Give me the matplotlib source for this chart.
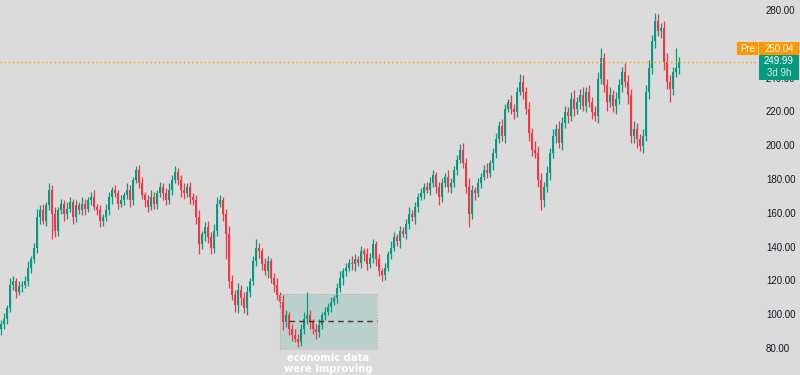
import numpy as np
import matplotlib.pyplot as plt
from matplotlib.patches import Rectangle
from matplotlib.transforms import blended_transform_factory

# daily closes (one candle every ~3 px)
closes = [
    95, 98, 104, 118, 120, 114, 117, 118, 120, 128, 133, 140, 158, 162, 156, 165, 174, 160, 150, 162,
    166, 160, 163, 167, 158, 165, 162, 166, 163, 168, 170, 164, 162, 156, 158, 162, 170, 174, 172, 166,
    168, 171, 174, 168, 180, 186, 178, 171, 168, 164, 170, 166, 172, 176, 172, 168, 174, 180, 185, 180,
    174, 172, 176, 170, 168, 158, 142, 148, 152, 146, 140, 150, 166, 168, 160, 148, 120, 112, 106, 115,
    110, 104, 114, 120, 132, 140, 138, 130, 126, 132, 122, 118, 112, 108, 96, 100, 92, 88, 86, 84,
    92, 98, 100, 96, 92, 90, 94, 100, 102, 105, 108, 110, 116, 122, 126, 128, 131, 130, 133, 131,
    138, 136, 130, 134, 142, 133, 126, 124, 128, 136, 140, 146, 144, 150, 148, 154, 160, 158, 164, 170,
    172, 176, 174, 178, 183, 176, 170, 178, 182, 176, 178, 186, 192, 198, 190, 176, 160, 174, 172, 178,
    182, 186, 184, 190, 196, 204, 212, 206, 222, 226, 222, 220, 232, 238, 232, 222, 208, 198, 196, 180,
    168, 176, 184, 196, 206, 210, 202, 214, 220, 218, 228, 222, 226, 230, 224, 232, 226, 220, 218, 240,
    252, 236, 226, 230, 224, 228, 236, 244, 238, 230, 206, 210, 204, 200, 206, 232, 246, 262, 274, 268,
    270, 250, 238, 234, 244, 246, 249.99,
]
first_open = 92

# wick lengths above / below the body
upper_wick = [
    2, 3, 2, 4, 3, 2, 3, 2, 3, 4, 2, 3, 5, 3, 4, 2, 4, 3, 4, 2,
    3, 2, 4, 3, 2, 3, 2, 4, 3, 2, 3, 4, 2, 3, 2, 4, 3, 2, 3, 2,
    3, 2, 4, 3, 2, 2, 3, 4, 2, 3, 4, 3, 2, 3, 2, 3, 4, 3, 3, 2,
    3, 4, 2, 3, 2, 3, 4, 2, 3, 4, 3, 4, 4, 3, 2, 3, 5, 4, 3, 4,
    3, 4, 3, 2, 3, 5, 3, 2, 4, 3, 2, 3, 4, 2, 4, 3, 2, 3, 4, 3,
    3, 4, 14, 3, 2, 3, 4, 2, 3, 2, 3, 2, 3, 4, 2, 3, 2, 4, 3, 2,
    3, 2, 4, 3, 3, 2, 3, 2, 3, 2, 4, 3, 2, 3, 2, 3, 4, 2, 3, 2,
    3, 2, 3, 4, 3, 2, 3, 3, 2, 4, 3, 2, 3, 3, 4, 3, 5, 3, 2, 3,
    2, 3, 4, 2, 3, 4, 3, 4, 3, 2, 4, 3, 3, 5, 4, 3, 4, 3, 5, 4,
    4, 3, 4, 3, 4, 3, 5, 3, 4, 3, 4, 5, 3, 4, 5, 3, 4, 3, 4, 4,
    6, 3, 4, 5, 3, 4, 4, 3, 5, 4, 4, 5, 4, 3, 4, 4, 5, 4, 5, 4,
    3, 4, 5, 4, 3, 12, 3,
]
lower_wick = [
    4, 3, 3, 2, 3, 4, 2, 3, 2, 3, 3, 2, 3, 4, 2, 3, 3, 15, 4, 3,
    2, 4, 3, 2, 4, 3, 2, 3, 4, 2, 3, 2, 3, 4, 3, 2, 3, 4, 2, 3,
    2, 3, 2, 4, 3, 2, 3, 2, 4, 3, 2, 3, 3, 2, 4, 3, 2, 3, 2, 3,
    4, 3, 2, 4, 3, 4, 6, 3, 4, 3, 4, 3, 3, 2, 4, 15, 4, 3, 4, 5,
    4, 3, 4, 3, 2, 3, 4, 3, 2, 4, 3, 4, 3, 4, 5, 3, 4, 3, 2, 3,
    2, 3, 3, 4, 3, 4, 3, 2, 3, 2, 3, 2, 3, 2, 4, 3, 2, 3, 4, 2,
    3, 4, 3, 2, 3, 4, 3, 4, 3, 2, 3, 2, 3, 4, 2, 3, 3, 2, 4, 3,
    2, 3, 2, 3, 2, 4, 5, 3, 2, 3, 4, 2, 3, 2, 3, 4, 8, 3, 4, 2,
    3, 2, 3, 2, 4, 3, 2, 3, 4, 2, 3, 4, 3, 2, 4, 3, 5, 4, 3, 4,
    6, 4, 3, 4, 3, 4, 3, 4, 3, 4, 3, 4, 3, 4, 3, 4, 3, 4, 3, 4,
    3, 4, 5, 3, 4, 5, 3, 4, 3, 5, 4, 4, 5, 3, 4, 3, 4, 3, 4, 3,
    4, 5, 4, 8, 4, 3, 3,
]

price_ticks = [280, 240, 220, 200, 180, 160, 140, 120, 100, 80]
pre_price = 250.04
last_price = 249.99
countdown = "3d 9h"
note_lines = ["economic data", "were improving"]

# box annotation (price range and candle range)
box_x = (93, 125.3)
box_y = (80, 112.6)
box_mid = 96.6

bg = "#dbdbdb"
up_col = "#089981"
down_col = "#f23645"
orange = "#ff9800"

c = np.array(closes, dtype=float)
o = np.concatenate([[first_open], c[:-1]])
hi = np.maximum(o, c) + np.array(upper_wick)
lo = np.minimum(o, c) - np.array(lower_wick)
x = np.arange(len(c))
cols = np.where(c >= o, up_col, down_col)

fig = plt.figure(figsize=(8, 3.75), dpi=100, facecolor=bg)
ax = fig.add_axes([0, 0, 1, 1])
ax.set_facecolor(bg)

ax.vlines(x, lo, hi, colors=cols, linewidth=0.9)
ax.bar(x, np.maximum(np.abs(c - o), 0.6), bottom=np.minimum(o, c),
       width=0.8, color=cols, linewidth=0)

ax.set_xlim(-0.3, 800 / 3 - 0.3)
ax.set_ylim(64.6, 286.5)
ax.axis("off")

# pre-market line
ax.axhline(pre_price, xmin=0, xmax=758 / 800, color=orange,
           linestyle=(0, (1, 2)), linewidth=1)

# highlighted zone
ax.add_patch(Rectangle((box_x[0], box_y[0]), box_x[1] - box_x[0], box_y[1] - box_y[0],
                       facecolor=up_col, alpha=0.15, edgecolor="none", zorder=0))
ax.add_patch(Rectangle((box_x[0], box_y[0]), box_x[1] - box_x[0], box_y[1] - box_y[0],
                       facecolor="none", edgecolor="#d9a3ad", linestyle=(0, (1, 1.5)),
                       linewidth=0.8, zorder=3))
ax.plot([box_x[0] + 3, box_x[1]], [box_mid, box_mid], color="#5a2a2a",
        linestyle=(0, (4, 3)), linewidth=1, zorder=4)

for k, line in enumerate(note_lines):
    fig.text(328 / 800, 1 - (358 + 11.5 * k) / 375, line, color="white",
             fontsize=7.2, fontweight="bold", ha="center", va="center")

# price scale; the label under the last-price tag is only partly visible
tr = blended_transform_factory(ax.transAxes, ax.transData)
clip = Rectangle((0, 0), 1, 1 - 80 / 375, transform=fig.transFigure,
                 facecolor="none", edgecolor="none")
for p in price_ticks:
    t = ax.text(766 / 800, p, f"{p:.2f}", transform=tr, fontsize=7,
                family="Liberation Sans", color="#131722", ha="left", va="center")
    if p == 240:
        t.set_clip_path(clip)

# price labels on the scale
def fig_box(x0, y0, x1, y1, color):
    fig.patches.append(Rectangle((x0 / 800, 1 - y1 / 375), (x1 - x0) / 800, (y1 - y0) / 375,
                                 transform=fig.transFigure, facecolor=color,
                                 edgecolor="none", zorder=5))

fig_box(737, 42, 758, 55, orange)
fig_box(759, 42, 799, 55, orange)
fig_box(759, 55, 799, 80, up_col)
fig.text(747.5 / 800, 1 - 48.5 / 375, "Pre", color="white", fontsize=7,
         family="Liberation Sans", ha="center", va="center", zorder=6)
fig.text(779 / 800, 1 - 48.5 / 375, f"{pre_price:.2f}", color="white", fontsize=7,
         family="Liberation Sans", ha="center", va="center", zorder=6)
fig.text(779 / 800, 1 - 61.5 / 375, f"{last_price:.2f}", color="white", fontsize=7,
         family="Liberation Sans", ha="center", va="center", zorder=6)
fig.text(779 / 800, 1 - 73 / 375, countdown, color="#cfeee8", fontsize=7,
         family="Liberation Sans", ha="center", va="center", zorder=6)

fig.savefig("out.png", dpi=100, facecolor=bg)
